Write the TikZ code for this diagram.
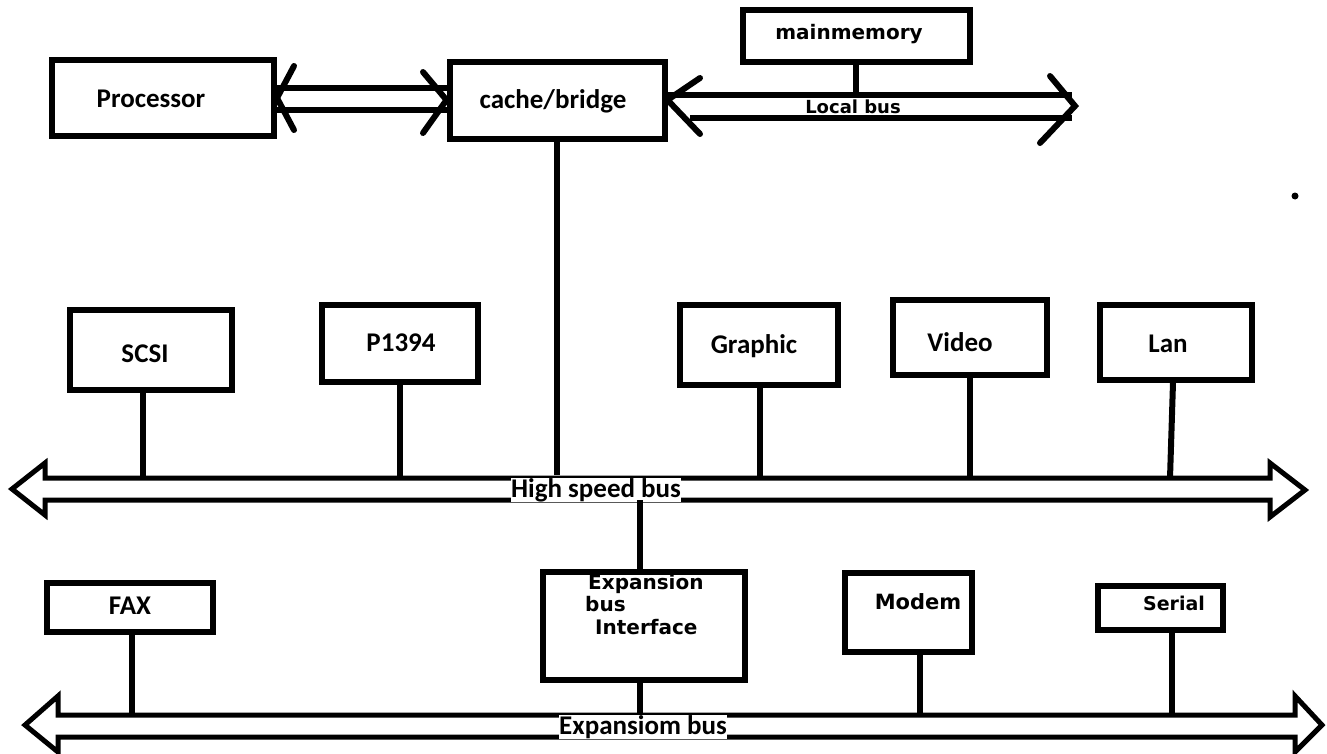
\documentclass[tikz,border=0pt]{standalone}
\usepackage{fontspec}
\setmainfont{Carlito}
\newfontfamily\verd{DejaVu Sans}
\begin{document}
\begin{tikzpicture}[x=1pt,y=-1pt,
  cal/.style={font=\fontsize{27}{30}\selectfont\bfseries},
  ver/.style={font=\verd\fontsize{20}{22}\selectfont\bfseries},
  vers/.style={font=\verd\fontsize{18}{20}\selectfont\bfseries},
  vere/.style={font=\verd\fontsize{20}{22}\selectfont\bfseries,inner sep=0pt},
  buslbl/.style={font=\fontsize{27}{29}\selectfont\bfseries,fill=white,inner sep=0pt},
  wire/.style={line width=6pt},
  bus/.style={line width=5pt,line join=miter},
  vhead/.style={line width=6pt,line cap=round}]
\useasboundingbox (0,0) rectangle (1327,753);
% boxes
\node[draw,line width=6pt,minimum width=222pt,minimum height=76pt] (proc) at (163,98) {};
\node[cal] at (151,99) {Processor};
\node[draw,line width=6pt,minimum width=215pt,minimum height=77pt] (cache) at (557,100) {};
\node[cal] at (553,101) {cache/bridge};
\node[draw,line width=6pt,minimum width=227pt,minimum height=52pt] (mem) at (856,36) {};
\node[ver] at (849,34) {mainmemory};
\node[draw,line width=6pt,minimum width=162pt,minimum height=80pt] (scsi) at (151,350) {};
\node[cal] at (145,354) {SCSI};
\node[draw,line width=6pt,minimum width=156pt,minimum height=77pt] (p1394) at (400,343) {};
\node[cal] at (401,343) {P1394};
\node[draw,line width=6pt,minimum width=158pt,minimum height=80pt] (graph) at (759,345) {};
\node[cal] at (754,346) {Graphic};
\node[draw,line width=6pt,minimum width=154pt,minimum height=75pt] (video) at (970,337) {};
\node[cal] at (960,342) {Video};
\node[draw,line width=6pt,minimum width=152pt,minimum height=75pt] (lan) at (1176,342) {};
\node[cal] at (1168,344) {Lan};
\node[draw,line width=6pt,minimum width=202pt,minimum height=108pt] (ebi) at (644,626) {};
\node[vere,anchor=base west] at (588,589) {Expansion};
\node[vere,anchor=base west] at (585,611) {bus};
\node[vere,anchor=base west] at (595,634) {Interface};
\node[draw,line width=6pt,minimum width=166pt,minimum height=49pt] (fax) at (130,607) {};
\node[cal] at (130,606) {FAX};
\node[draw,line width=6pt,minimum width=127pt,minimum height=79pt] (modem) at (908,612) {};
\node[font=\verd\fontsize{21}{23}\selectfont\bfseries] at (918,602) {Modem};
\node[draw,line width=6pt,minimum width=125pt,minimum height=44pt] (serial) at (1160,608) {};
\node[font=\verd\fontsize{19}{21}\selectfont\bfseries] at (1174,603) {Serial};
% processor <-> cache double arrow
\coordinate (pv) at (proc.east);
\coordinate (cv) at (cache.west);
\draw[wire] (proc.east |- 0,88) -- (cache.west |- 0,88);
\draw[wire] (proc.east |- 0,110) -- (cache.west |- 0,110);
\draw[vhead] (294,66) -- (pv) -- (294,130);
\draw[vhead] (423,72) -- (cv) -- (423,133);
% local bus
\coordinate (lbL) at (cache.east);
\coordinate (lbR) at (1075,106);
\draw[wire] (668,95) -- (1072,95);
\draw[wire] (690,118) -- (1072,118);
\draw[vhead] (700,78) -- (lbL) -- (700,134);
\draw[vhead] (1050,76) -- (lbR) -- (1040,143);
\node[vers,fill=white,inner sep=1.5pt] (lbl) at (853,107) {Local bus};
\draw[wire] (mem.south) -- (mem.south |- 0,95);
% high speed bus
\draw[bus] (12,489) -- (45,463) -- (45,478) -- (1270,478) -- (1270,463) -- (1305,490) -- (1270,517) -- (1270,500) -- (45,500) -- (45,515) -- cycle;
\node[buslbl] (hsl) at (596,490) {High speed bus};
\draw[wire] (cache.south) -- (cache.south |- 0,475);
\draw[wire] (scsi.south -| 143,0) -- (143,478);
\draw[wire] (p1394.south) -- (400,478);
\draw[wire] (graph.south -| 760,0) -- (760,478);
\draw[wire] (video.south) -- (970,478);
\draw[wire] (lan.south -| 1173,0) -- (1170,478);
\draw[wire] (640,500) -- (ebi.north -| 640,0);
% expansion bus
\draw[bus] (25,725) -- (58,696) -- (58,715) -- (1295,715) -- (1295,696) -- (1322,725) -- (1295,752) -- (1295,737) -- (58,737) -- (58,752) -- cycle;
\node[buslbl] (ebl) at (643,727) {Expansiom bus};
\draw[wire] (ebi.south -| 640,0) -- (640,715);
\draw[wire] (fax.south -| 132,0) -- (132,715);
\draw[wire] (modem.south -| 920,0) -- (920,715);
\draw[wire] (serial.south -| 1172,0) -- (1172,715);
% stray dot
\fill (1295,196) circle (3.5pt);
\end{tikzpicture}
\end{document}
